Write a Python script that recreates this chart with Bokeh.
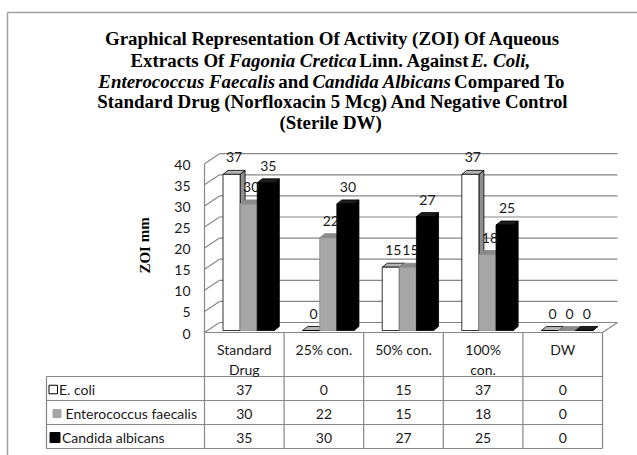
from bokeh.plotting import figure
from bokeh.models import ColumnDataSource
from bokeh.core.properties import value
from bokeh.embed import file_html
from bokeh.resources import INLINE

# ---------------- data ----------------
categories = ["Standard Drug", "25% con.", "50% con.", "100% con.", "DW"]
category_lines = [["Standard", "Drug"], ["25% con."], ["50% con."], ["100%", "con."], ["DW"]]
series_names = ["E. coli", "Enterococcus faecalis", "Candida albicans"]
e_coli = [37, 0, 15, 37, 0]
e_faecalis = [30, 22, 15, 18, 0]
c_albicans = [35, 30, 27, 25, 0]
y_ticks = [0, 5, 10, 15, 20, 25, 30, 35, 40]
y_axis_title = "ZOI mm"

# title lines: list of (segment text, font style, left px)
title_lines = [
    ([("Graphical Representation Of Activity (ZOI)  Of Aqueous", "bold", 104.5)], 38.3),
    ([("Extracts Of", "bold", 130.0), ("Fagonia Cretica", "bold italic", 228.5),
      ("Linn. Against", "bold", 358.8), ("E. Coli,", "bold italic", 470.5)], 60.0),
    ([("Enterococcus Faecalis", "bold italic", 97.8), ("and", "bold", 277.8),
      ("Candida Albicans", "bold italic", 312.0), ("Compared To", "bold", 453.6)], 80.7),
    ([("Standard Drug (Norfloxacin 5 Mcg) And Negative Control", "bold", 96.8)], 101.0),
    ([("(Sterile DW)", "bold", 279.0)], 121.7),
]

# ---------------- geometry ----------------
W, H = 637, 455
PX_X = 79.6      # px per category
X0_PX = 243.8    # px of category 0 centre
PX_Y = 4.22      # px per ZOI unit
Y0_PX = 332.0    # px of value 0 on front plane


def vx(px):
    return (px - X0_PX) / PX_X


def vy(py):
    return (Y0_PX - py) / PX_Y


p = figure(width=W, height=H, x_range=(vx(0), vx(W)), y_range=(vy(H), vy(0)),
           output_backend="svg", toolbar_location=None, min_border=0,
           x_axis_location=None, y_axis_location=None)
p.grid.visible = False
p.outline_line_color = None
p.background_fill_color = "white"
p.border_fill_color = "white"

SANS = value("Lato")
SERIF = value("Liberation Serif")
GRID = "#868686"
TXT = "#1a1a1a"

# chart area border
p.segment(x0=[vx(7), vx(7)], y0=[vy(455), vy(12)], x1=[vx(7), vx(637)], y1=[vy(12), vy(12)],
          line_color="#a0a0a0", line_width=1.5)

# ---------------- title ----------------
for segs, base_py in title_lines:
    for txt, style, xpx in segs:
        p.text(x=[vx(xpx)], y=[vy(base_py)], text=[txt], text_font=SERIF,
               text_font_style=style, text_font_size="18.9px", text_color="#000000",
               text_align="left", text_baseline="alphabetic")

# y-axis title
p.text(x=[vx(144)], y=[vy(245)], text=[y_axis_title], angle=1.5708, text_font=SERIF,
       text_font_style="bold", text_font_size="15px", text_color="#000000",
       text_align="center", text_baseline="middle")

# ---------------- walls & gridlines ----------------
n = len(categories)
xl, xr = -0.5, n - 0.5
dxw = 15 / PX_X
dyw = 10 / PX_Y
ymax = max(y_ticks)

p.segment(x0=[xl] * len(y_ticks), y0=y_ticks, x1=[xl + dxw] * len(y_ticks),
          y1=[t + dyw for t in y_ticks], line_color=GRID, line_width=1.2)
p.segment(x0=[xl + dxw] * len(y_ticks), y0=[t + dyw for t in y_ticks],
          x1=[xr + dxw] * len(y_ticks), y1=[t + dyw for t in y_ticks], line_color=GRID, line_width=1.2)
p.segment(x0=[xl, xr], y0=[0, 0], x1=[xl, xr + dxw], y1=[ymax, dyw], line_color=GRID, line_width=1.2)

# tick labels
p.text(x=[vx(190)] * len(y_ticks), y=y_ticks, text=[str(t) for t in y_ticks], text_font=SANS,
       text_font_size="14px", text_color=TXT, text_align="right", text_baseline="middle", y_offset=1)

# ---------------- 3D bars ----------------
series = [e_coli, e_faecalis, c_albicans]
front_colors = ["#ffffff", "#a6a6a6", "#000000"]
top_colors = ["#b4b4b4", "#8a8a8a", "#1c1c1c"]
side_colors = ["#8f8f8f", "#808080", "#000000"]
edge_colors = ["#000000", "#8a8a8a", "#000000"]
bw = 0.215
pitch = 0.215
shift = 0.055
base = 2 / PX_Y
ddx = 5 / PX_X
ddy = 4 / PX_Y

label_x, label_y, label_t = [], [], []
for s, vals in enumerate(series):
    xc = [i + shift + (s - 1) * pitch for i in range(n)]
    x0 = [c - bw / 2 for c in xc]
    x1 = [c + bw / 2 for c in xc]
    tops = [base + v for v in vals]
    side_xs = [[b, b + ddx, b + ddx, b] for b in x1]
    side_ys = [[base, base + ddy, t + ddy, t] for t in tops]
    top_xs = [[a, b, b + ddx, a + ddx] for a, b in zip(x0, x1)]
    top_ys = [[t, t, t + ddy, t + ddy] for t in tops]
    p.patches(xs=side_xs, ys=side_ys, fill_color=side_colors[s], line_color=edge_colors[s], line_width=0.8)
    p.patches(xs=top_xs, ys=top_ys, fill_color=top_colors[s], line_color=edge_colors[s], line_width=0.8)
    src = ColumnDataSource(dict(left=x0, right=x1, bottom=[base] * n, top=tops))
    p.quad(left="left", right="right", bottom="bottom", top="top", source=src,
           fill_color=front_colors[s], line_color=edge_colors[s], line_width=0.8)
    for c, t, v in zip(xc, tops, vals):
        label_x.append(c + ddx / 2)
        label_y.append(t + ddy + 13 / PX_Y)
        label_t.append(str(v))

p.text(x=label_x, y=label_y, text=label_t, text_font=SANS, text_font_size="14px",
       text_color=TXT, text_align="center", text_baseline="middle")

# ---------------- data table ----------------
hdr_bot = 376
row_lines = [400, 424, 448]
row_centers = [389, 413, 437]
tab_left = 46
bounds = [xl + k for k in range(n + 1)]

# vertical lines
p.segment(x0=bounds, y0=[0] * len(bounds), x1=bounds, y1=[vy(448)] * len(bounds),
          line_color=GRID, line_width=1.2)
p.segment(x0=[vx(tab_left)], y0=[vy(hdr_bot)], x1=[vx(tab_left)], y1=[vy(448)],
          line_color=GRID, line_width=1.2)
# horizontal lines
p.segment(x0=[xl] + [vx(tab_left)] * 4, y0=[0] + [vy(v) for v in [hdr_bot] + row_lines],
          x1=[xr] * 5, y1=[0] + [vy(v) for v in [hdr_bot] + row_lines],
          line_color=GRID, line_width=1.2)

# header texts
hx, hy, ht = [], [], []
for i, lines in enumerate(category_lines):
    for j, t in enumerate(lines):
        hx.append(i)
        hy.append(vy(348.5 + 20 * j))
        ht.append(t)
p.text(x=hx, y=hy, text=ht, text_font=SANS, text_font_size="14px", text_color=TXT,
       text_align="center", text_baseline="middle")

# values
vxs, vys, vts = [], [], []
for r, vals in enumerate(series):
    for i, v in enumerate(vals):
        vxs.append(i)
        vys.append(vy(row_centers[r]))
        vts.append(str(v))
p.text(x=vxs, y=vys, text=vts, text_font=SANS, text_font_size="14px", text_color=TXT,
       text_align="center", text_baseline="middle")

# legend keys and names
key_left = [48.5, 52.5, 49.5]
key_size = [8.5, 8, 10]
name_left = [58.5, 65, 61.5]
for r in range(3):
    p.rect(x=[vx(key_left[r] + key_size[r] / 2)], y=[vy(row_centers[r])], width=key_size[r],
           height=key_size[r], width_units="screen", height_units="screen",
           fill_color=front_colors[r], line_color="#000000" if r != 1 else front_colors[r], line_width=1)
    p.text(x=[vx(name_left[r])], y=[vy(row_centers[r])], text=[series_names[r]], text_font=SANS,
           text_font_size="14px", text_color=TXT, text_align="left", text_baseline="middle")

open("out.html", "w").write(file_html(p, INLINE))
